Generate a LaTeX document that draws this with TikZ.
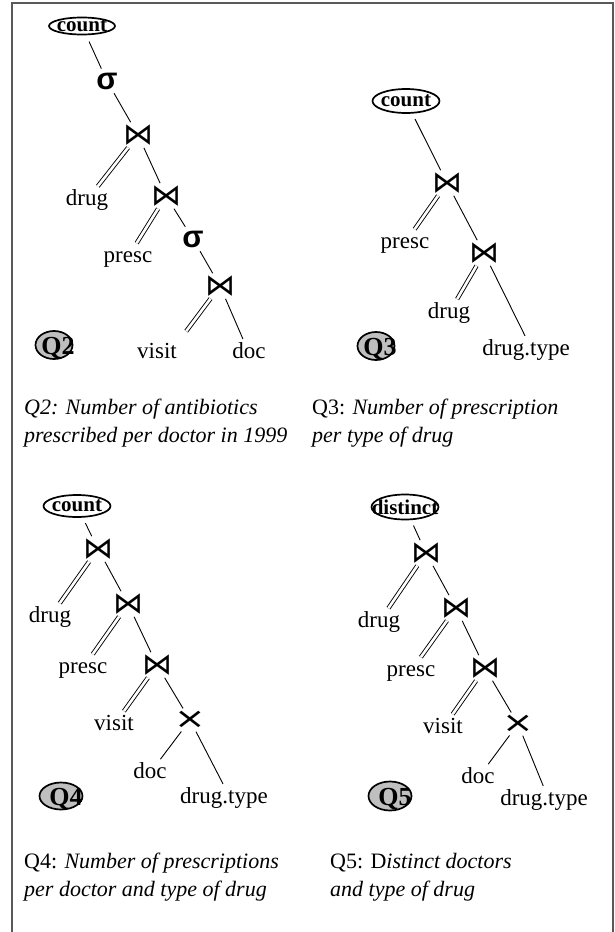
\documentclass[tikz,border=0pt]{standalone}
\usepackage{fontspec}
\setmainfont{Liberation Serif}
\newfontfamily\symfont{DejaVu Sans}
\newfontfamily\sigfont{Liberation Sans}
\usetikzlibrary{shapes.geometric}
\begin{document}
\begin{tikzpicture}[x=1pt,y=-1pt,
  lbl/.style={font=\fontsize{23}{23}\selectfont, inner sep=2pt, text height=15pt, text depth=5pt, anchor=base},
  jn/.style={font=\fontsize{30}{30}\symfont, inner sep=0.5pt},
  sig/.style={font=\fontsize{31}{31}\sigfont\bfseries, inner sep=2pt},
  crs/.style={font=\fontsize{29}{29}\symfont, inner sep=1pt},
  agg/.style={draw, ellipse, line width=1.7pt, inner sep=0pt},
  aggtext/.style={font=\fontsize{21}{21}\selectfont\bfseries, inner sep=0pt},
  qc/.style={draw, ellipse, line width=1.7pt, fill=gray!50, inner sep=0pt},
  qt/.style={font=\fontsize{26}{26}\selectfont\bfseries, inner sep=0pt},
  captxt/.style={font=\fontsize{22}{22}\selectfont, inner sep=0pt, anchor=base west},
  conn/.style={line width=0.9pt, shorten <=2pt, shorten >=2pt},
  dconn/.style={double, double distance=2.6pt, line width=0.9pt, shorten <=2pt, shorten >=2pt},
  frame/.style={line width=1.3pt, draw=black!65}
]
\useasboundingbox (0,0) rectangle (614,932);
\draw[frame] (12,940) -- (12,3) -- (613,3) -- (613,940);

% ---------------- Q2 ----------------
\node[agg, minimum width=66pt, minimum height=17pt] (c2) at (82,26) {};
\node[aggtext] (c2t) at (82,26) {count};
\node[sig] (s2a) at (107,81) {σ};
\node[jn] (j2a) at (138,135) {⋈};
\node[lbl] (drug2) at (87,205) {drug};
\node[jn] (j2b) at (166,196) {⋈};
\node[lbl] (presc2) at (128,262) {presc};
\node[sig] (s2b) at (193,239) {σ};
\node[jn] (j2c) at (220,286) {⋈};
\node[lbl] (visit2) at (157,358) {visit};
\node[lbl] (doc2) at (249,358) {doc};
\node[qc, minimum width=37pt, minimum height=28pt] (q2) at (54,345) {};
\node[qt] (q2t) at (58,348) {Q2};
\draw[conn, shorten <=7pt] (c2) -- (s2a);
\draw[conn] (s2a) -- (j2a);
\draw[dconn] (j2a) -- (drug2);
\draw[conn] (j2a) -- (j2b);
\draw[dconn] (j2b) -- (presc2);
\draw[conn] (j2b) -- (s2b);
\draw[conn] (s2b) -- (j2c);
\draw[dconn, shorten >=12pt] (j2c) -- (visit2.north east);
\draw[conn] (j2c) -- (doc2);

% ---------------- Q3 ----------------
\node[agg, minimum width=67pt, minimum height=24pt] (c3) at (406,101) {};
\node[aggtext] (c3t) at (406,101) {count};
\node[jn] (j3a) at (447,183) {⋈};
\node[lbl] (presc3) at (405,248) {presc};
\node[jn] (j3b) at (484,253) {⋈};
\node[lbl] (drug3) at (449,318) {drug};
\node[lbl] (dt3) at (526,355) {drug.type};
\node[qc, minimum width=37pt, minimum height=28pt] (q3) at (376,346) {};
\node[qt] (q3t) at (380,349) {Q3};
\draw[conn, shorten <=6pt] (c3) -- (j3a);
\draw[dconn] (j3a) -- (presc3);
\draw[conn] (j3a) -- (j3b);
\draw[dconn] (j3b) -- (drug3);
\draw[conn] (j3b) -- (dt3.north);

% ---------------- Q4 ----------------
\node[agg, minimum width=67pt, minimum height=22pt] (c4) at (77,506) {};
\node[aggtext] (c4t) at (77,506) {count};
\node[jn] (j4a) at (98,549) {⋈};
\node[lbl] (drug4) at (50,622) {drug};
\node[jn] (j4b) at (128,604) {⋈};
\node[lbl] (presc4) at (83,673) {presc};
\node[jn] (j4c) at (157,665) {⋈};
\node[lbl] (visit4) at (114,730) {visit};
\node[crs] (x4) at (190,720) {\scalebox{1.3}[1]{×}};
\node[lbl] (doc4) at (150,778) {doc};
\node[lbl] (dt4) at (224,803) {drug.type};
\node[qc, minimum width=43pt, minimum height=27pt] (q4) at (61,796) {};
\node[qt] (q4t) at (66,799) {Q4};
\draw[conn, shorten <=6pt] (c4) -- (j4a);
\draw[dconn] (j4a) -- (drug4);
\draw[conn] (j4a) -- (j4b);
\draw[dconn] (j4b) -- (presc4);
\draw[conn] (j4b) -- (j4c);
\draw[dconn] (j4c) -- (visit4);
\draw[conn] (j4c) -- (x4);
\draw[conn] (x4) -- (doc4);
\draw[conn] (x4) -- (dt4.north);

% ---------------- Q5 ----------------
\node[agg, minimum width=67pt, minimum height=25pt] (c5) at (405,507) {};
\node[aggtext] (c5t) at (405,507) {distinct};
\node[jn] (j5a) at (426,553) {⋈};
\node[lbl] (drug5) at (379,627) {drug};
\node[jn] (j5b) at (456,608) {⋈};
\node[lbl] (presc5) at (411,676) {presc};
\node[jn] (j5c) at (485,668) {⋈};
\node[lbl] (visit5) at (443,733) {visit};
\node[crs] (x5) at (518,724) {\scalebox{1.3}[1]{×}};
\node[lbl] (doc5) at (478,783) {doc};
\node[lbl] (dt5) at (544,805) {drug.type};
\node[qc, minimum width=43pt, minimum height=29pt] (q5) at (390,796) {};
\node[qt] (q5t) at (395,799) {Q5};
\draw[conn, shorten <=6pt] (c5) -- (j5a);
\draw[dconn] (j5a) -- (drug5);
\draw[conn] (j5a) -- (j5b);
\draw[dconn] (j5b) -- (presc5);
\draw[conn] (j5b) -- (j5c);
\draw[dconn] (j5c) -- (visit5);
\draw[conn] (j5c) -- (x5);
\draw[conn] (x5) -- (doc5);
\draw[conn] (x5) -- (dt5.north);

% ---------------- captions ----------------
\node[captxt] (cap2a) at (24,414) {\itshape Q2: Number of antibiotics};
\node[captxt] (cap2b) at (24,442) {\itshape prescribed per doctor in 1999};
\node[captxt] (cap3a) at (312,414) {Q3: \textit{Number of prescription}};
\node[captxt] (cap3b) at (312,442) {\textit{per type of drug}};
\node[captxt] (cap4a) at (24,868) {Q4: \textit{Number of prescriptions}};
\node[captxt] (cap4b) at (24,896) {\textit{per doctor and type of drug}};
\node[captxt] (cap5a) at (330,868) {Q5: D\textit{istinct doctors}};
\node[captxt] (cap5b) at (330,896) {\textit{and type of drug}};
\end{tikzpicture}
\end{document}
